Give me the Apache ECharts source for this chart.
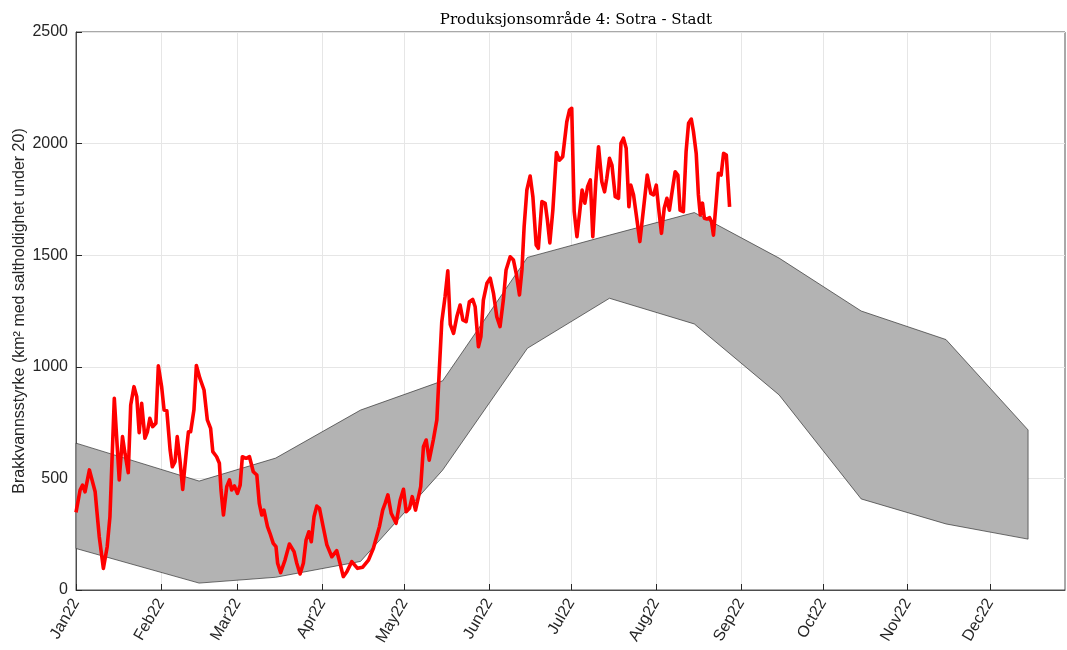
<!DOCTYPE html>
<html>
<head>
<meta charset="utf-8">
<script src="https://cdn.jsdelivr.net/npm/echarts@6/dist/echarts.min.js"></script>
<style>html,body{margin:0;padding:0;background:#fff}#c{width:1067px;height:650px}</style>
</head>
<body>
<div id="c"></div>
<script>
// Month ticks (day of year, 0 = 1 Jan 2022)
const monthStarts = [0, 31, 59, 90, 120, 151, 181, 212, 243, 273, 304, 334];
const monthLabels = ['Jan22','Feb22','Mar22','Apr22','May22','Jun22','Jul22','Aug22','Sep22','Oct22','Nov22','Dec22'];
const yTicks = [0, 500, 1000, 1500, 2000, 2500];

// Grey band (normal range), mid-month points
const bandDays  = [0, 45, 73, 104, 134, 165, 195, 226, 257, 287, 318, 348];
const bandUpper = [658, 488, 591, 806, 937, 1490, 1590, 1691, 1487, 1250, 1122, 717];
const bandLower = [186, 31, 57, 128, 537, 1083, 1307, 1192, 874, 408, 296, 228];

// Red line: 2022 observations
const redDays = [0,1.5,2.4,3.3,4.9,5.5,7,7.6,8.5,10,11.4,12.4,14,15.8,17,17.9,19.1,20,21.2,22.2,23.1,24,25.2,26.1,27,28,29.2,30.1,31.3,32.2,33.2,34.4,35.2,36.2,37,38,39,40.5,41.1,41.9,43.1,44,45.3,46.8,48,49.2,50,51.4,52.4,53,53.9,55.1,56.1,56.9,57.9,59,60,60.8,62.2,63.4,64.8,66.1,67,67.9,68.7,70,70.9,72.1,73.1,73.7,74.8,76.4,78,79.7,80.7,81.9,83.1,84.1,85.1,86,87,88,89,90.4,91.7,93.5,95.3,96.5,97.7,99,100.8,102.9,104.8,106.9,108.7,110.9,112.1,113,114,115.2,117,118.5,119.7,120.7,121.9,122.9,124.1,125.2,126,127,128,129.1,130.6,131.9,132.8,133.7,134.9,135.9,136.8,138,139.2,140.4,141.4,142.6,143.8,145,145.9,147.1,148,148.9,150.2,151.4,152.6,153.8,155,156.2,157.2,158.7,159.9,160.9,162.1,163,163.8,164.8,166,167,168.2,169,170.3,171.5,172.3,173.2,174.3,175.6,176.7,177.9,179.4,180.4,181.2,182.1,183.1,184,185,186,187,188,188.9,190,191,192.2,193.2,194,195,195.9,197.1,198.3,199.2,200.1,201.1,202.1,202.8,203.8,204.8,206.1,207.5,208.8,210.1,211.1,212.1,213.1,214,215,216,216.9,217.9,219,220,220.8,222,223,223.9,224.9,225.7,226.7,227.5,228.2,229,229.7,230.6,231.6,232.3,233,234,234.8,235.8,236.7,237.7,238.9];
const redVals = [348,448,470,440,538,545,440,358,239,97,194,328,859,493,687,612,526,829,911,866,705,836,680,709,769,732,747,1004,911,806,803,627,552,575,687,582,451,642,709,709,806,1006,948,896,762,724,620,597,568,448,336,463,493,448,466,433,470,597,590,597,530,515,388,336,358,284,254,209,194,120,78,134,206,172,120,72,120,224,261,216,328,376,366,280,202,149,176,120,60,82,127,97,102,134,187,284,358,388,426,344,299,403,451,351,366,418,358,418,463,642,672,582,672,762,986,1202,1314,1430,1190,1150,1224,1277,1210,1202,1292,1302,1269,1090,1135,1299,1374,1397,1329,1224,1180,1299,1434,1493,1478,1419,1322,1434,1628,1792,1855,1762,1546,1531,1740,1732,1658,1555,1702,1960,1926,1941,2098,2151,2158,1695,1583,1680,1792,1733,1807,1837,1583,1829,1986,1829,1784,1844,1934,1904,1762,1755,2001,2024,1979,1717,1814,1770,1680,1561,1715,1859,1777,1770,1814,1695,1598,1710,1755,1702,1785,1874,1859,1702,1695,1964,2091,2110,2053,1956,1770,1680,1733,1665,1662,1668,1650,1590,1740,1867,1859,1956,1949,1717];

const chart = echarts.init(document.getElementById('c'), null, {renderer: 'canvas'});
const axisColor = '#262626';
const gridColor = '#e6e6e6';

chart.setOption({
  animation: false,
  backgroundColor: '#ffffff',
  title: {
    text: 'Produksjonsområde 4: Sotra - Stadt',
    left: 571, top: 8, textAlign: 'center',
    textStyle: {fontFamily: 'DejaVu Serif', fontWeight: 'normal', fontSize: 15, color: '#000'}
  },
  grid: {left: 76, right: 2, top: 32, bottom: 60, show: true, borderColor: axisColor, borderWidth: 0.8, backgroundColor: 'transparent'},
  xAxis: {
    type: 'value', min: 0, max: 361.5,
    axisLine: {show: true, lineStyle: {color: axisColor, width: 0.8}},
    axisTick: {show: true, inside: true, length: 6, customValues: monthStarts, lineStyle: {color: axisColor}},
    axisLabel: {
      customValues: monthStarts, rotate: 60, color: axisColor, fontSize: 16, fontFamily: 'Liberation Sans', margin: 10,
      formatter: function (v) { const i = monthStarts.indexOf(Math.round(v)); return i >= 0 ? monthLabels[i] : ''; }
    },
    splitLine: {show: true, lineStyle: {color: gridColor, width: 1}}
  },
  yAxis: {
    type: 'value', min: 0, max: 2500, interval: 500,
    name: 'Brakkvannsstyrke (km² med saltholdighet under 20)',
    nameLocation: 'middle', nameGap: 48, nameRotate: 90, nameMoveOverlap: false,
    nameTextStyle: {fontFamily: 'Liberation Sans', fontSize: 16, color: axisColor},
    axisLine: {show: true, lineStyle: {color: axisColor, width: 0.8}},
    axisTick: {show: true, inside: true, length: 6, lineStyle: {color: axisColor}},
    axisLabel: {color: axisColor, fontSize: 16, fontFamily: 'Liberation Sans', margin: 8,
      formatter: function (v) { return yTicks.indexOf(v) >= 0 ? String(v) : ''; }},
    splitLine: {show: true, lineStyle: {color: gridColor, width: 1}}
  },
  series: [
    {
      type: 'custom',
      data: bandDays.map((d, i) => [d, bandUpper[i], bandLower[i]]),
      encode: {x: 0, y: [1, 2]},
      z: 2,
      renderItem: function (params, api) {
        if (params.dataIndex !== 0) return null;
        const pts = [];
        for (let i = 0; i < bandDays.length; i++) pts.push(api.coord([bandDays[i], bandUpper[i]]));
        for (let i = bandDays.length - 1; i >= 0; i--) pts.push(api.coord([bandDays[i], bandLower[i]]));
        return {
          type: 'polygon',
          shape: {points: pts},
          style: {fill: '#b3b3b3', stroke: '#333333', lineWidth: 0.7}
        };
      }
    },
    {
      type: 'line',
      data: redDays.map((d, i) => [d, redVals[i]]),
      showSymbol: false,
      z: 3,
      lineStyle: {color: '#ff0000', width: 3.6, join: 'round'},
      itemStyle: {color: '#ff0000'}
    }
  ]
});
</script>
</body>
</html>
